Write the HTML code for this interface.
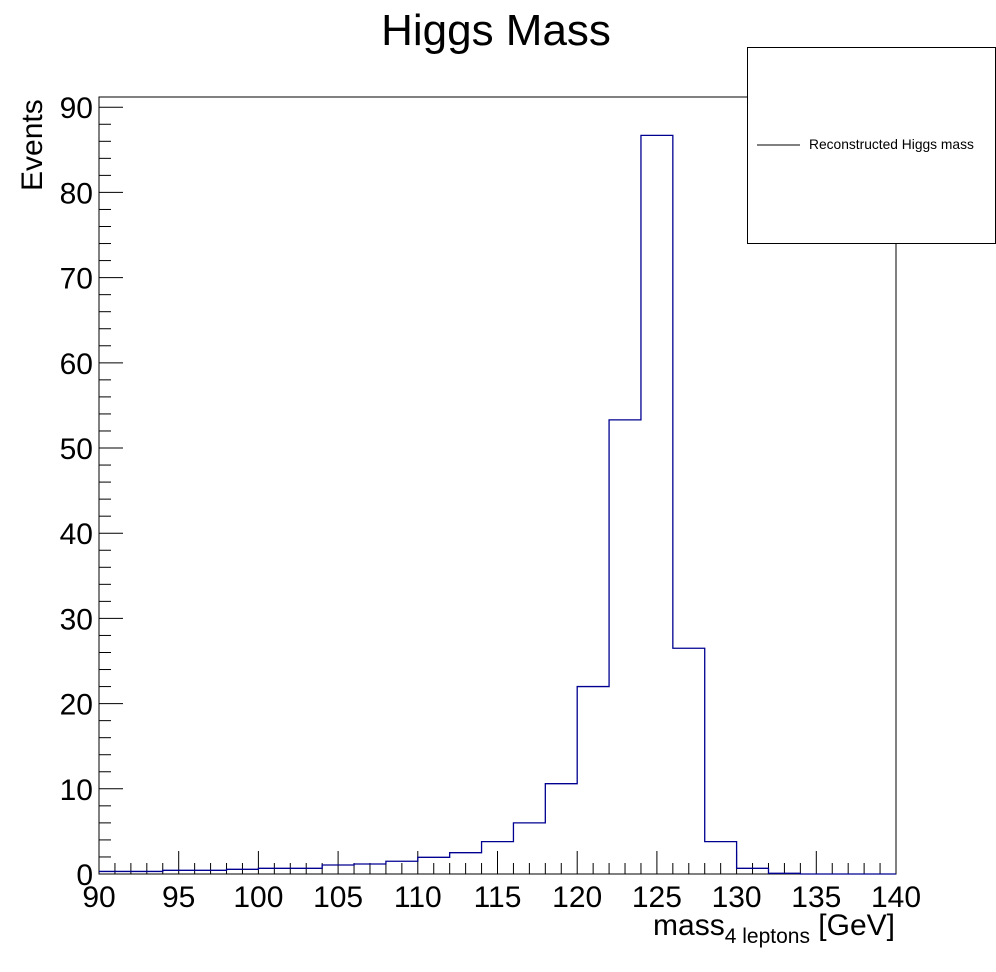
<!DOCTYPE html>
<html><head><meta charset="utf-8"><style>
body{margin:0;background:#fff;}
svg{display:block;font-family:"Liberation Sans",sans-serif;}
</style></head><body>
<svg width="996" height="972" viewBox="0 0 996 972">
<text x="496" y="45" font-size="44" text-anchor="middle">Higgs Mass</text>
<rect x="99" y="97" width="797" height="777" fill="none" stroke="#000" stroke-width="1"/>
<g id="axes"></g>
<path id="hist" fill="none" stroke="#000090" stroke-width="1.3"/>
<text transform="translate(42,191) rotate(-90)" font-size="30">Events</text>
<text x="895" y="935" font-size="30" text-anchor="end">mass<tspan font-size="21" dy="8">4 leptons</tspan><tspan dy="-8"> [GeV]</tspan></text>
<g>
<rect x="747.5" y="47.5" width="248" height="196" fill="#fff" stroke="#000"/>
<line x1="757" y1="145" x2="800" y2="145" stroke="#000"/>
<text x="809" y="149" font-size="13.8">Reconstructed Higgs mass</text>
</g>
</svg>
<script>
const binEdgesStart = 90;
const binWidth = 2;
const counts = [0.3,0.3,0.43,0.43,0.55,0.67,0.67,1.06,1.17,1.5,1.96,2.5,3.8,6.0,10.6,22,53.3,86.7,26.5,3.8,0.67,0.08,0,0,0];
const xTicks = [90,95,100,105,110,115,120,125,130,135,140];
const yTicks = [0,10,20,30,40,50,60,70,80,90];
const X0=99,X1=896,Y0=874,Y1=97,xmin=90,xmax=140,ymin=0,ymax=91.2;
const sx=v=>X0+(v-xmin)/(xmax-xmin)*(X1-X0);
const sy=v=>Y0-(v-ymin)/(ymax-ymin)*(Y0-Y1);
const NS="http://www.w3.org/2000/svg";
const ax=document.getElementById('axes');
function mk(t,a){const e=document.createElementNS(NS,t);for(const k in a)e.setAttribute(k,a[k]);ax.appendChild(e);return e;}
for(let v=xmin;v<=xmax;v++){const major=v%5===0;
 const l=mk('line',{x1:sx(v),x2:sx(v),y1:Y0,y2:Y0-(major?23:11),stroke:'#000'});
 
 }
xTicks.forEach(v=>{const t=mk('text',{x:sx(v),y:907,'font-size':30,'text-anchor':'middle'});t.textContent=v;
 
 });
for(let v=0;v<=90;v+=2){const major=v%10===0;
 const l=mk('line',{x1:X0,x2:X0+(major?24:12),y1:sy(v),y2:sy(v),stroke:'#000'});
 
 }
yTicks.forEach(v=>{const t=mk('text',{x:93,y:sy(v)+11,'font-size':30,'text-anchor':'end'});t.textContent=v;
 
 });
let d='M'+sx(binEdgesStart)+','+sy(counts[0]);
counts.forEach((c,i)=>{const a=binEdgesStart+i*binWidth;
 d+=' L'+sx(a)+','+sy(c)+' L'+sx(a+binWidth)+','+sy(c);});
document.getElementById('hist').setAttribute('d',d);
</script>
</body></html>
